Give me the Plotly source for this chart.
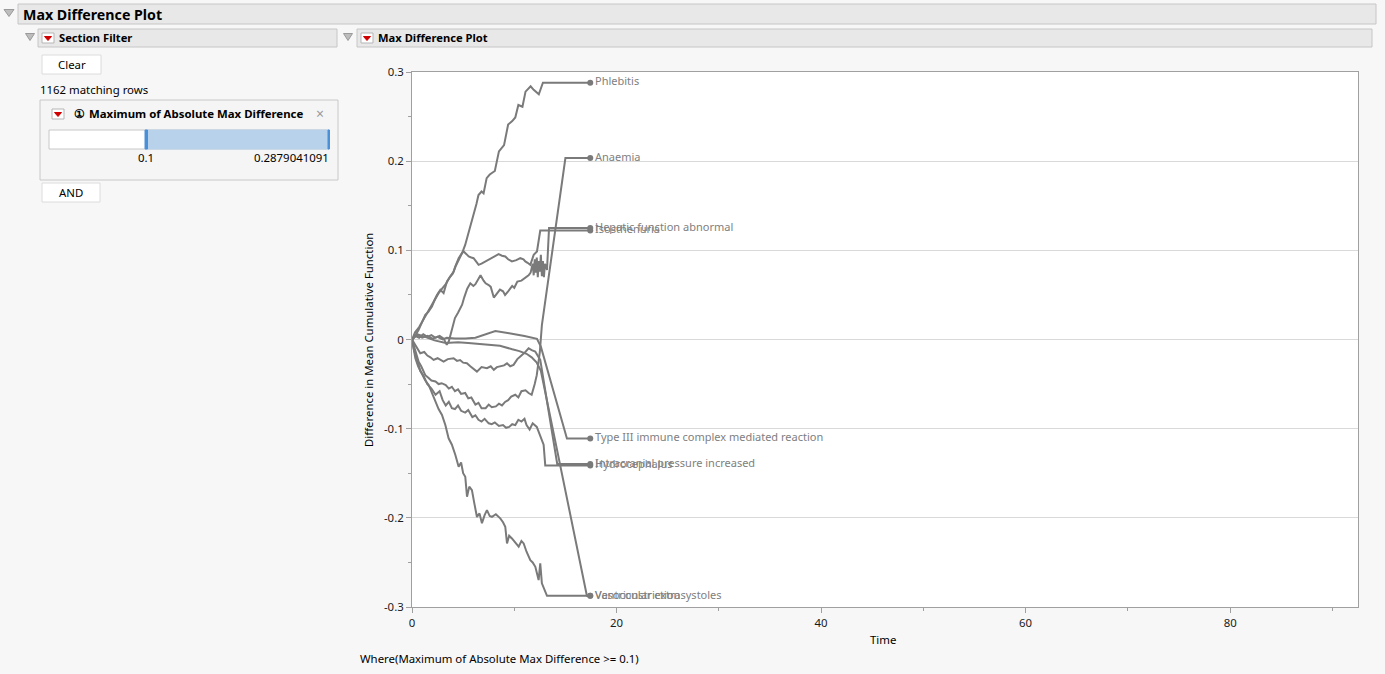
import plotly.graph_objects as go

# series (time, difference in mean cumulative function)
phlebitis_x = [0, 0.3, 0.7, 1.0, 1.4, 1.8, 2.2, 2.6, 3.0, 3.3, 3.7, 4.0, 4.3, 4.6, 4.9, 5.2, 5.4, 5.7, 6.0, 6.3,
               6.5, 6.8, 7.0, 7.3, 7.6, 8.1, 8.3, 8.5, 9.0, 9.3, 9.4, 9.8, 10.1, 10.4, 10.8, 11.1, 11.6, 11.9,
               12.4, 12.8, 17.43]
phlebitis_y = [0, 0.008, 0.014, 0.02, 0.028, 0.036, 0.043, 0.052, 0.058, 0.062, 0.07, 0.074, 0.083, 0.09, 0.097,
               0.106, 0.114, 0.127, 0.14, 0.152, 0.162, 0.166, 0.164, 0.181, 0.185, 0.189, 0.2, 0.211, 0.218,
               0.235, 0.241, 0.245, 0.249, 0.263, 0.261, 0.278, 0.284, 0.28, 0.275, 0.288, 0.288]

anaemia_x = [0, 0.2, 0.4, 0.65, 0.9, 1.1, 1.3, 1.6, 1.9, 2.3, 2.6, 2.9, 3.3, 3.6, 3.9, 4.2, 4.5, 4.8, 5.2, 5.5,
             5.8, 6.2, 6.5, 6.8, 7.2, 7.5, 7.8, 8.2, 8.5, 8.8, 9.1, 9.4, 9.7, 10.1, 10.4, 10.7, 11.1, 11.4, 11.7,
             12.0, 12.2, 12.5, 12.7, 15.0, 17.43]
anaemia_y = [0, -0.008, -0.018, -0.025, -0.03, -0.036, -0.04, -0.043, -0.046, -0.047, -0.05, -0.049, -0.051,
             -0.055, -0.053, -0.058, -0.056, -0.061, -0.06, -0.066, -0.065, -0.073, -0.071, -0.077, -0.077,
             -0.073, -0.076, -0.075, -0.072, -0.074, -0.07, -0.068, -0.064, -0.062, -0.065, -0.058, -0.057,
             -0.06, -0.062, -0.05, -0.04, -0.014, 0.016, 0.2035, 0.2035]

hepatic_x = [0, 0.3, 0.7, 1.1, 1.5, 1.9, 2.3, 2.7, 3.1, 3.4, 3.6, 3.9, 4.2, 4.5, 4.9, 5.1, 5.4, 5.7, 6.0, 6.2,
             6.5, 6.7, 7.0, 7.2, 7.5, 7.7, 8.0, 8.3, 8.6, 8.9, 9.1, 9.4, 9.8, 10.0, 10.3, 10.7, 11.1, 11.4, 11.6,
             11.8, 11.9, 12.0, 12.1, 12.2, 12.3, 12.4, 12.5, 12.6, 12.7, 12.8, 12.9, 13.0, 13.2, 13.4, 17.43]
hepatic_y = [0, 0.004, 0.002, 0.006, 0.003, 0.005, 0.002, 0.004, 0.001, -0.006, -0.002, 0.012, 0.024, 0.03,
             0.039, 0.047, 0.057, 0.063, 0.06, 0.062, 0.068, 0.072, 0.066, 0.063, 0.061, 0.059, 0.047, 0.052,
             0.056, 0.054, 0.05, 0.054, 0.06, 0.058, 0.065, 0.066, 0.069, 0.072, 0.075, 0.085, 0.072, 0.09,
             0.075, 0.092, 0.07, 0.088, 0.076, 0.095, 0.071, 0.088, 0.07, 0.085, 0.078, 0.125, 0.125]

isosthenuria_x = [0, 0.3, 0.65, 1.0, 1.3, 1.6, 1.95, 2.2, 2.44, 2.77, 3.09, 3.42, 3.74, 4.07, 4.23, 4.56, 4.88,
                  5.05, 5.3, 5.54, 5.8, 6.02, 6.3, 6.51, 6.8, 7.17, 7.5, 7.82, 8.1, 8.47, 8.8, 9.12, 9.4, 9.77,
                  10.2, 10.59, 10.9, 11.08, 11.3, 11.57, 11.9, 12.22, 12.54, 17.43]
isosthenuria_y = [0, 0.004, 0.0108, 0.02, 0.0276, 0.031, 0.037, 0.044, 0.05, 0.0557, 0.052, 0.065, 0.0706,
                  0.0762, 0.0819, 0.0912, 0.0968, 0.0987, 0.096, 0.0931, 0.092, 0.0912, 0.087, 0.0837, 0.085,
                  0.0875, 0.089, 0.0912, 0.093, 0.0957, 0.094, 0.0931, 0.09, 0.0875, 0.089, 0.0912, 0.09, 0.0875,
                  0.086, 0.0837, 0.0949, 0.0987, 0.1222, 0.1222]

type3_x = [0, 0.5, 1.0, 1.5, 2.0, 2.5, 3.0, 3.4, 4.2, 5.2, 6.2, 7.2, 8.15, 9.5, 11.0, 12.22, 12.6, 15.15, 17.43]
type3_y = [0, 0.005, 0.002, 0.004, 0.001, 0.003, 0.0, 0.002, 0.001, 0.001, 0.002, 0.006, 0.0095, 0.007, 0.004,
           0.0007, -0.008, -0.111, -0.111]

intracranial_x = [0, 0.4, 0.81, 1.2, 1.5, 1.8, 2.11, 2.5, 3.09, 3.5, 4.07, 4.4, 4.7, 5.0, 5.37, 5.7, 6.0, 6.35,
                  6.8, 7.33, 7.7, 8.0, 8.3, 8.63, 9.0, 9.29, 9.6, 9.93, 10.3, 10.59, 11.0, 11.4, 11.7, 12.05,
                  12.54, 14.2, 17.43]
intracranial_y = [0, -0.008, -0.0154, -0.014, -0.018, -0.02, -0.0229, -0.021, -0.0248, -0.022, -0.021, -0.024,
                  -0.023, -0.026, -0.0267, -0.03, -0.033, -0.036, -0.031, -0.0322, -0.03, -0.034, -0.031,
                  -0.0304, -0.029, -0.0267, -0.03, -0.0285, -0.022, -0.019, -0.015, -0.0098, -0.012, -0.0135,
                  -0.0229, -0.1395, -0.1395]

hydro_x = [0, 0.2, 0.5, 0.8, 1.1, 1.5, 1.9, 2.3, 2.7, 3.0, 3.3, 3.6, 3.9, 4.2, 4.5, 4.8, 5.2, 5.5, 5.9, 6.2, 6.5,
           6.8, 7.1, 7.5, 7.8, 8.1, 8.5, 8.9, 9.2, 9.5, 9.8, 10.1, 10.4, 10.7, 11.0, 11.2, 11.5, 11.8, 12.2, 12.5,
           12.87, 13.03, 17.43]
hydro_y = [0, -0.012, -0.022, -0.035, -0.04, -0.05, -0.055, -0.062, -0.058, -0.068, -0.074, -0.07, -0.077,
           -0.078, -0.074, -0.08, -0.082, -0.079, -0.087, -0.085, -0.09, -0.092, -0.089, -0.094, -0.095, -0.093,
           -0.097, -0.096, -0.099, -0.098, -0.095, -0.096, -0.09, -0.092, -0.089, -0.096, -0.101, -0.094,
           -0.098, -0.107, -0.118, -0.1412, -0.1412]

ventricular_x = [0, 0.15, 0.33, 0.6, 0.98, 1.3, 1.63, 2.0, 2.28, 2.6, 2.93, 3.26, 3.58, 3.9, 4.24, 4.56, 4.8,
                 5.0, 5.21, 5.38, 5.6, 5.86, 6.1, 6.35, 6.6, 6.84, 7.1, 7.33, 7.6, 7.82, 8.2, 8.63, 8.9, 9.12,
                 9.29, 9.5, 9.77, 10.1, 10.43, 10.7, 10.92, 11.2, 11.57, 11.8, 12.06, 12.38, 12.54, 12.7, 13.2,
                 17.43]
ventricular_y = [0, -0.01, -0.021, -0.03, -0.0397, -0.046, -0.051, -0.062, -0.0697, -0.078, -0.0846, -0.0958,
                 -0.1108, -0.118, -0.1295, -0.1426, -0.138, -0.15, -0.154, -0.1763, -0.165, -0.169, -0.184,
                 -0.199, -0.195, -0.206, -0.197, -0.1913, -0.198, -0.199, -0.196, -0.2006, -0.205, -0.21,
                 -0.2287, -0.22, -0.2231, -0.228, -0.2324, -0.226, -0.2287, -0.238, -0.2474, -0.25, -0.2549,
                 -0.2698, -0.2511, -0.2735, -0.2874, -0.2874]

vaso_x = [0, 0.5, 1.0, 1.5, 2.2, 3.3, 4.5, 5.5, 6.8, 7.7, 8.6, 9.8, 10.5, 11.2, 11.7, 12.2, 12.6, 17.1, 17.43]
vaso_y = [0, 0.006, 0.004, 0.002, -0.001, -0.004, -0.003, -0.004, -0.005, -0.006, -0.007, -0.011, -0.013,
          -0.016, -0.02, -0.026, -0.035, -0.2874, -0.2874]

series = [
    ("Phlebitis", phlebitis_x, phlebitis_y),
    ("Anaemia", anaemia_x, anaemia_y),
    ("Hepatic function abnormal", hepatic_x, hepatic_y),
    ("Isosthenuria", isosthenuria_x, isosthenuria_y),
    ("Type III immune complex mediated reaction", type3_x, type3_y),
    ("Intracranial pressure increased", intracranial_x, intracranial_y),
    ("Hydrocephalus", hydro_x, hydro_y),
    ("Ventricular extrasystoles", ventricular_x, ventricular_y),
    ("Vasoconstriction", vaso_x, vaso_y),
]

y_ticks = [-0.3, -0.2, -0.1, 0, 0.1, 0.2, 0.3]
y_tick_labels = ["-0.3", "-0.2", "-0.1", "0", "0.1", "0.2", "0.3"]
x_ticks = [0, 20, 40, 60, 80]

FONT = "Segoe UI, Noto Sans, sans-serif"
FS = 11.4
LINE = "#7a7a7a"

# page geometry (pixels)
W, H = 1385, 674
ML, MR, MT, MB = 412, 27, 72, 67
PW, PH = W - ML - MR, H - MT - MB


def px(x):
    return (x - ML) / PW


def py(y):
    return (H - MB - y) / PH


fig = go.Figure()

for name, xs, ys in series:
    fig.add_trace(go.Scatter(x=xs, y=ys, mode="lines", name=name,
                             line=dict(color=LINE, width=2), hoverinfo="x+y+name"))

fig.add_trace(go.Scatter(
    x=[s[1][-1] for s in series],
    y=[s[2][-1] for s in series],
    text=[s[0] for s in series],
    mode="markers+text",
    textposition="middle right",
    marker=dict(color=LINE, size=6),
    textfont=dict(family=FONT, size=11, color="#808080"),
    hoverinfo="text",
))

shapes = []
annotations = []


def rect(x0, y0, x1, y1, fill, line="#c6c6c6", width=1):
    shapes.append(dict(type="rect", xref="paper", yref="paper",
                       x0=px(x0), x1=px(x1), y0=py(y1), y1=py(y0),
                       fillcolor=fill, line=dict(color=line, width=width), layer="below"))


def tri(cx, cy, w, h, fill, line):
    path = "M {} {} L {} {} L {} {} Z".format(px(cx - w / 2), py(cy - h / 2), px(cx + w / 2), py(cy - h / 2),
                                           px(cx), py(cy + h / 2))
    shapes.append(dict(type="path", xref="paper", yref="paper", path=path,
                       fillcolor=fill, line=dict(color=line, width=1)))


def text(x, y, s, size=FS, bold=False, anchor="left", color="#000000"):
    annotations.append(dict(x=px(x), y=py(y), xref="paper", yref="paper", text="<b>%s</b>" % s if bold else s,
                            showarrow=False, xanchor=anchor, yanchor="middle",
                            font=dict(family=FONT, size=size, color=color)))


def red_icon(cx, cy):
    rect(cx - 6, cy - 5, cx + 6, cy + 5, "#ffffff", "#b5b5b5")
    tri(cx, cy + 0.5, 7, 4, "#d00000", "#d00000")


# header bars
rect(18, 4, 1376, 24, "#e8e8e8")
tri(9, 13, 10, 7, "#bdbdbd", "#9a9a9a")
text(21, 14, "Max Difference Plot", 14.2, bold=True)

rect(38, 29, 337, 47, "#e8e8e8")
tri(30, 37, 9, 7, "#bdbdbd", "#9a9a9a")
red_icon(48, 38)
text(57, 38, "Section Filter", 11.2, bold=True)

rect(357, 29, 1372, 47, "#e8e8e8")
tri(348, 37, 9, 7, "#bdbdbd", "#9a9a9a")
red_icon(367, 38)
text(376, 38, "Max Difference Plot", 11.2, bold=True)

# filter panel
rect(42, 55, 101, 74, "#ffffff", "#dcdcdc")
text(71.5, 64.5, "Clear")
text(38, 89, "1162 matching rows")
rect(40, 100, 338, 180, "#f5f5f5", "#c8c8c8")
red_icon(58, 114)
text(72, 113, "①", 12, bold=True)
text(87, 113, "Maximum of Absolute Max Difference", 11.4, bold=True)
text(320, 113, "×", 14, anchor="center", color="#9a9a9a")
rect(49, 130, 329, 149, "#ffffff", "#c8c8c8")
rect(146, 130, 329, 149, "#b8d2eb", "#b8d2eb")
rect(145, 130, 147.5, 149, "#4a90d9", "#4a90d9")
rect(328, 130, 329.5, 149, "#4a90d9", "#4a90d9")
text(146, 157, "0.1", anchor="center")
text(331, 157, "0.2879041091", anchor="right")
rect(42, 183, 100, 202, "#ffffff", "#dcdcdc")
text(71, 192.5, "AND", anchor="center")

annotations[-1]["xanchor"] = "center"
for a in annotations:
    if a["text"] == "Clear":
        a["xanchor"] = "center"

# axis titles and footer
text(883, 639, "Time", anchor="center")
annotations.append(dict(x=px(368), y=py(340), xref="paper", yref="paper", text="Difference in Mean Cumulative Function",
                        showarrow=False, textangle=-90, xanchor="center", yanchor="middle",
                        font=dict(family=FONT, size=FS, color="#000000")))
text(358, 658, "Where(Maximum of Absolute Max Difference >= 0.1)")

fig.update_layout(
    width=W, height=H,
    margin=dict(l=ML, r=MR, t=MT, b=MB, autoexpand=False),
    paper_bgcolor="#f7f7f7",
    plot_bgcolor="#ffffff",
    showlegend=False,
    font=dict(family=FONT, size=FS, color="#000000"),
    shapes=shapes,
    annotations=annotations,
    xaxis=dict(range=[0, 92.5], tickvals=x_ticks, ticks="outside", ticklen=5, tickcolor="#a0a0a0",
               showgrid=False, zeroline=False, showline=True, linecolor="#a0a0a0", mirror=True,
               minor=dict(dtick=10, ticks="outside", ticklen=3, tickcolor="#a0a0a0", showgrid=False),
               tickfont=dict(size=FS, color="#1a1a1a")),
    yaxis=dict(range=[-0.3, 0.3], tickvals=y_ticks, ticktext=y_tick_labels, ticks="outside", ticklen=5,
               tickcolor="#a0a0a0", showgrid=True, gridcolor="#d9d9d9", zeroline=False, showline=True,
               linecolor="#a0a0a0", mirror=True,
               minor=dict(dtick=0.05, ticks="outside", ticklen=3, tickcolor="#a0a0a0", showgrid=False),
               tickfont=dict(size=FS, color="#1a1a1a")),
)

fig.write_html("out.html", config={"displayModeBar": False},
               post_script="document.body.style.margin='0px';document.body.style.overflow='hidden';")
